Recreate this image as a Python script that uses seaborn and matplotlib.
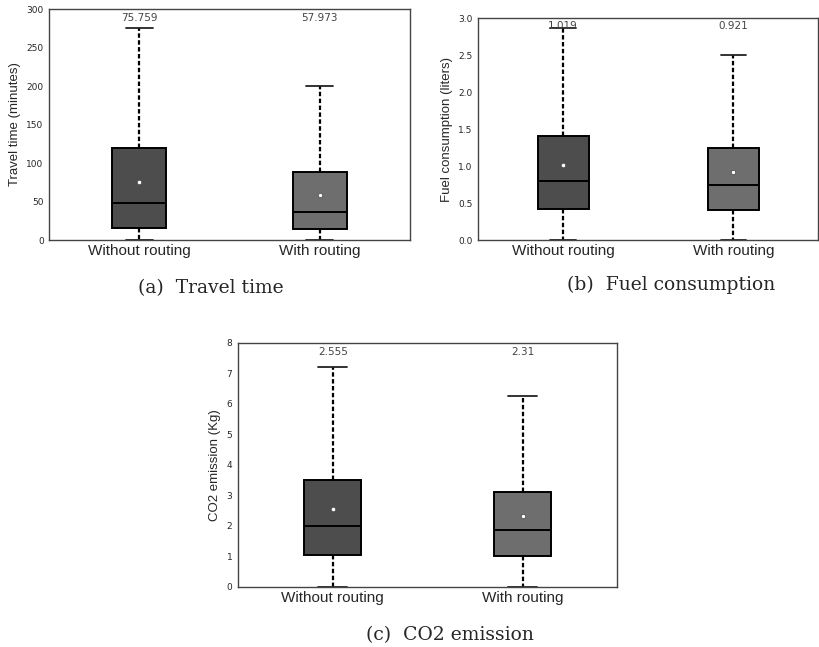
import numpy as np
import pandas as pd
import seaborn as sns
import matplotlib.pyplot as plt

groups = ["Without routing", "With routing"]
box_colors = ["#4d4d4d", "#6e6e6e"]

# five-number summaries: low whisker, q1, median, q3, high whisker
travel_without = [0, 15, 48, 119, 276]
travel_with = [0, 14, 37, 88, 200]
travel_means = [75.759, 57.973]

fuel_without = [0.0, 0.42, 0.80, 1.40, 2.87]
fuel_with = [0.0, 0.41, 0.74, 1.24, 2.50]
fuel_means = [1.019, 0.921]

co2_without = [0.0, 1.03, 2.0, 3.5, 7.2]
co2_with = [0.0, 1.02, 1.85, 3.1, 6.27]
co2_means = [2.555, 2.31]

sns.set_theme(style="white")
plt.rcParams['font.family'] = ['Liberation Sans', 'DejaVu Sans']


def draw_panel(ax, without, with_, means, ylabel, ylim, yticks, ticklabels):
    df = pd.DataFrame({
        "group": [groups[0]] * len(without) + [groups[1]] * len(with_),
        "value": without + with_,
    })
    sns.boxplot(data=df, x="group", y="value", hue="group", order=groups,
                palette=box_colors, legend=False, whis=(0, 100), width=0.3,
                linecolor="black", linewidth=1.4, ax=ax,
                whiskerprops={"linestyle": (0, (2, 1.1)), "linewidth": 1.6},
                capprops={"linewidth": 1.3, "color": "#222222"},
                medianprops={"linewidth": 1.4, "color": "black"})
    sns.scatterplot(x=groups, y=means, ax=ax, color="white", edgecolor="#555555",
                    s=10, linewidth=0.6, zorder=5, legend=False)
    for i, m in enumerate(means):
        ax.text(i, 0.985, f"{m:g}", transform=ax.get_xaxis_transform(),
                ha="center", va="top", fontsize=7.5, color="#444444",
                family="DejaVu Sans")
    ax.set_xlim(-0.5, 1.5)
    ax.set_ylim(*ylim)
    ax.set_yticks(yticks)
    ax.set_yticklabels(ticklabels, family="DejaVu Sans", fontsize=6.5)
    ax.set_xlabel("")
    ax.set_ylabel(ylabel, fontsize=9.5)
    ax.tick_params(axis="x", labelsize=11, length=0, pad=3)
    ax.tick_params(axis="y", length=0, pad=4)
    for s in ax.spines.values():
        s.set_color("#444444")
        s.set_linewidth(1.0)


fig = plt.figure(figsize=(8.2, 6.47), dpi=100)

ax_a = fig.add_axes([0.060, 0.629, 0.440, 0.357])
ticks_a = [0, 50, 100, 150, 200, 250, 300]
draw_panel(ax_a, travel_without, travel_with, travel_means,
           "Travel time (minutes)", (0, 300), ticks_a, [str(t) for t in ticks_a])

ax_b = fig.add_axes([0.583, 0.629, 0.415, 0.343])
ticks_b = [0.0, 0.5, 1.0, 1.5, 2.0, 2.5, 3.0]
draw_panel(ax_b, fuel_without, fuel_with, fuel_means,
           "Fuel consumption (liters)", (0, 3.0), ticks_b, [f"{t:.1f}" for t in ticks_b])

ax_c = fig.add_axes([0.290, 0.093, 0.463, 0.377])
ticks_c = list(range(9))
draw_panel(ax_c, co2_without, co2_with, co2_means,
           "CO2 emission (Kg)", (0, 8), ticks_c, [str(t) for t in ticks_c])

cap_font = dict(family=["DejaVu Serif"], fontsize=13.5, ha="center", va="center")
fig.text(0.257, 1 - 288 / 647, "(a)  Travel time", **cap_font)
fig.text(0.818, 1 - 285 / 647, "(b)  Fuel consumption", **cap_font)
fig.text(0.549, 1 - 635 / 647, "(c)  CO2 emission", **cap_font)

fig.savefig("out.png", dpi=100)
